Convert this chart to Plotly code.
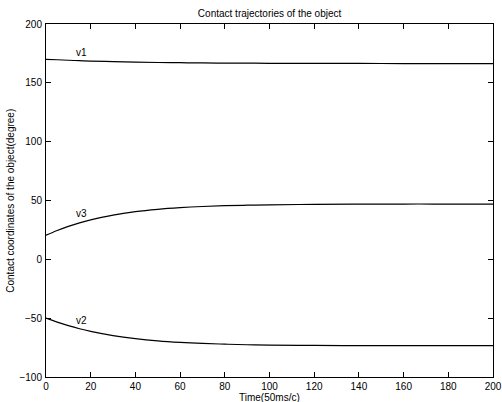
import plotly.graph_objects as go

t = [0, 5, 10, 15, 20, 30, 40, 50, 60, 70, 80, 90, 100, 120, 140, 160, 180, 200]
v1 = [170.0, 169.6, 169.2, 168.8, 168.5, 168.0, 167.6, 167.3, 167.1, 166.9, 166.8,
      166.7, 166.6, 166.5, 166.5, 166.4, 166.4, 166.4]
v3 = [20.5, 24.5, 28.0, 31.0, 33.5, 37.6, 40.5, 42.5, 43.9, 44.9, 45.6,
      46.0, 46.3, 46.7, 46.9, 47.0, 47.0, 47.0]
v2 = [-50.0, -53.4, -56.4, -59.0, -61.2, -64.8, -67.4, -69.3, -70.6, -71.5, -72.1,
      -72.6, -72.9, -73.2, -73.3, -73.4, -73.4, -73.4]

labels = ["v1", "v3", "v2"]
label_x = [16, 16, 16]
label_y = [176, 39, -52]

xticks = [0, 20, 40, 60, 80, 100, 120, 140, 160, 180, 200]
yticks = [-100, -50, 0, 50, 100, 150, 200]

font = "Liberation Sans, Arial, sans-serif"
tf = dict(family=font, size=10, color="black")

fig = go.Figure()
for name, ys in [("v1", v1), ("v3", v3), ("v2", v2)]:
    fig.add_trace(go.Scatter(x=t, y=ys, mode="lines", name=name,
                             line=dict(color="black", width=1.2, shape="spline"),
                             showlegend=False))

for lab, lx, ly in zip(labels, label_x, label_y):
    fig.add_annotation(x=lx, y=ly, text=lab, showarrow=False, font=tf)

fig.add_annotation(text="Time(50ms/c)", xref="paper", yref="paper", x=0.5, y=-0.058,
                   xanchor="center", yanchor="middle", showarrow=False, font=tf)
fig.add_annotation(text="Contact coordinates of the object(degree)", xref="paper", yref="paper",
                   x=-0.08, y=0.5, xanchor="center", yanchor="middle", textangle=-90,
                   showarrow=False, font=tf)

axis_common = dict(showline=True, linecolor="black", linewidth=1, mirror="ticks",
                   ticks="inside", ticklen=5, tickcolor="black", showgrid=False,
                   zeroline=False, automargin=False, tickfont=tf)

fig.update_layout(
    width=502, height=402,
    margin=dict(l=46, r=9, t=24, b=25),
    paper_bgcolor="white", plot_bgcolor="white",
    title=dict(text="Contact trajectories of the object", x=0.537, xanchor="center",
               y=1 - 13 / 402, yanchor="middle", font=tf),
    xaxis=dict(range=[0, 200], tickvals=xticks, ticklabelstandoff=0, **axis_common),
    yaxis=dict(range=[-100, 200], tickvals=yticks, ticklabelstandoff=1, **axis_common),
)

fig.write_html("out.html", config={"displayModeBar": False},
               post_script="document.body.style.margin='0';document.body.style.overflow='hidden';")
